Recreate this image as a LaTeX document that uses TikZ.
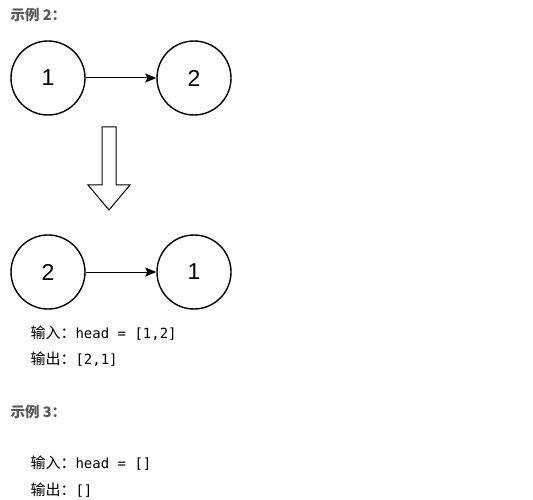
\documentclass[tikz,border=0pt]{standalone}
\usepackage{fontspec}
\setmainfont{Liberation Sans}
\setmonofont{DejaVu Sans Mono}
\newfontfamily\cjk{Noto Sans CJK SC}
\usetikzlibrary{arrows.meta}

\tikzset{
  listnode/.style={draw,circle,line width=1.4pt,minimum size=74pt,inner sep=0pt,
    font=\fontsize{23}{26}\selectfont},
  nextptr/.style={-{Stealth[length=11pt,width=9pt,inset=2pt]},line width=1pt},
  exhead/.style={anchor=west,text=black!65,font=\cjk\bfseries\fontsize{14.5}{16}\selectfont},
  ioline/.style={anchor=west,font=\fontsize{14}{16}\selectfont}
}

\begin{document}
\begin{tikzpicture}[x=1pt,y=-1pt]
		\useasboundingbox (0,0) rectangle (533,500);
		\node[exhead] (ex2) at (7,15) {示例 2：};
		% before
		\node[listnode] (a1) at (48,78) {1};
		\node[listnode] (a2) at (194,78) {2};
		\draw[nextptr] (a1)--(a2);
		% hollow arrow
		\draw[line width=1pt] (102,127)--(116,127)--(116,185)--(130,185)--(109,210)--(88,185)--(102,185)--cycle;
		% after
		\node[listnode] (b2) at (48,272) {2};
		\node[listnode] (b1) at (194,272) {1};
		\draw[nextptr] (b2)--(b1);
		\node[ioline] (in2) at (27,333) {{\cjk\fontsize{15}{16}\selectfont 输入：}\texttt{head = [1,2]}};
		\node[ioline] (out2) at (27,359) {{\cjk\fontsize{15}{16}\selectfont 输出：}\texttt{[2,1]}};
		\node[exhead] (ex3) at (7,412) {示例 3：};
		\node[ioline] (in3) at (27,463) {{\cjk\fontsize{15}{16}\selectfont 输入：}\texttt{head = []}};
		\node[ioline] (out3) at (27,490) {{\cjk\fontsize{15}{16}\selectfont 输出：}\texttt{[]}};
\end{tikzpicture}
\end{document}
